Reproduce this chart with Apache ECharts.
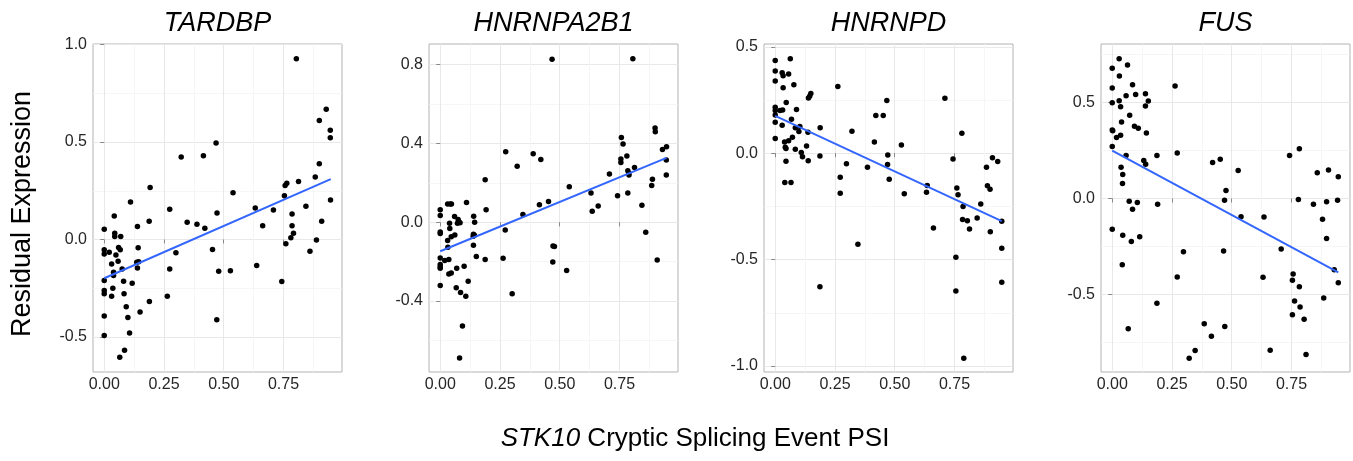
<!DOCTYPE html>
<html>
<head>
<meta charset="utf-8">
<script src="https://cdn.jsdelivr.net/npm/echarts@6/dist/echarts.min.js"></script>
<style>
html,body{margin:0;padding:0;background:#fff;}
#chart{width:1353px;height:461px;}
</style>
</head>
<body>
<div id="chart"></div>
<script>
// ---------- data ----------
const panelTitles = ['TARDBP', 'HNRNPA2B1', 'HNRNPD', 'FUS'];

const tardbpPoints = [[0,0.053],[0,-0.053],[0,-0.075],[0.021,-0.066],[0,-0.211],[0,-0.262],[0,-0.279],[0,-0.393],[0,-0.493],
[0.031,-0.126],[0.031,-0.291],[0.036,-0.25],[0.039,-0.168],[0.039,-0.185],[0.042,0.121],[0.044,0.032],[0.044,0.015],[0.049,-0.08],
[0.058,-0.112],[0.06,-0.041],[0.067,-0.053],[0.069,0.015],[0.075,-0.151],[0.081,-0.214],[0.083,-0.279],[0.092,-0.345],[0.099,-0.4],
[0.106,-0.48],[0.085,-0.568],[0.065,-0.604],[0.11,0.192],[0.117,-0.224],[0.139,0.066],[0.142,-0.043],[0.136,-0.117],[0.144,-0.114],
[0.139,-0.146],[0.15,-0.372],[0.188,0.094],[0.192,0.267],[0.189,-0.318],[0.264,-0.291],[0.274,0.155],[0.274,-0.151],[0.3,-0.068],
[0.322,0.423],[0.347,0.088],[0.388,0.078],[0.415,0.43],[0.421,0.058],[0.453,-0.051],[0.468,0.495],[0.472,0.136],[0.471,-0.412],
[0.479,-0.163],[0.528,-0.16],[0.539,0.24],[0.632,0.162],[0.638,-0.133],[0.663,0.071],[0.708,0.151],[0.743,-0.216],[0.754,0.224],
[0.757,0.277],[0.764,0.289],[0.76,-0.022],[0.786,0.131],[0.786,0.071],[0.792,0.032],[0.781,0.009],[0.804,0.927],[0.813,0.298],
[0.844,0.17],[0.861,-0.061],[0.883,0.32],[0.888,-0.003],[0.9,0.388],[0.9,0.611],[0.91,0.094],[0.929,0.668],[0.946,0.561],
[0.946,0.522],[0.947,0.202]];

const hnrnpa2b1Points = [[0,0.064],[0,0.035],[0,-0.049],[0,-0.057],[0,-0.181],[0,-0.214],[0,-0.226],[0,-0.233],[0,-0.321],
[0.019,-0.194],[0.036,-0.189],[0.031,-0.093],[0.032,-0.127],[0.031,0.093],[0.042,0.093],[0.047,0.093],[0.039,-0.005],[0.04,-0.032],
[0.046,-0.073],[0.036,-0.262],[0.046,-0.257],[0.06,0.029],[0.061,-0.064],[0.069,-0.233],[0.067,-0.332],[0.072,-0.005],[0.075,0.014],
[0.078,0.002],[0.083,-0.003],[0.085,-0.356],[0.093,-0.527],[0.081,-0.689],[0.1,-0.223],[0.107,-0.376],[0.117,-0.299],[0.11,0.101],
[0.138,-0.071],[0.14,0.03],[0.144,0],[0.139,-0.061],[0.143,-0.066],[0.139,-0.116],[0.151,-0.174],[0.188,0.216],[0.192,0.064],
[0.188,-0.189],[0.263,-0.182],[0.274,0.358],[0.272,-0.039],[0.301,-0.363],[0.322,0.285],[0.346,0.039],[0.389,0.348],[0.415,0.089],
[0.421,0.319],[0.453,0.105],[0.468,0.827],[0.472,-0.12],[0.478,-0.123],[0.471,-0.201],[0.529,-0.245],[0.54,0.181],[0.631,0.149],
[0.636,0.056],[0.661,0.083],[0.708,0.245],[0.742,0.135],[0.758,0.43],[0.765,0.397],[0.756,0.321],[0.756,0.304],[0.781,0.336],
[0.785,0.262],[0.789,0.25],[0.79,0.24],[0.785,0.149],[0.806,0.83],[0.813,0.278],[0.844,0.086],[0.86,-0.051],[0.885,0.187],
[0.888,0.219],[0.899,0.479],[0.9,0.459],[0.908,-0.191],[0.93,0.37],[0.947,0.383],[0.946,0.316],[0.946,0.24]];

const hnrnpdPoints = [[0,0.436],[0,0.386],[0,0.339],[0,0.216],[0,0.2],[0,0.18],[0,0.145],[0,0.069],[0.02,0.2],[0.031,0.203],
[0.029,0.131],[0.029,0.378],[0.033,0.364],[0.033,0.308],[0.046,0.238],[0.039,0.052],[0.042,0.028],[0.045,0.022],[0.045,-0.038],
[0.04,-0.138],[0.056,0.372],[0.063,0.444],[0.056,0.058],[0.066,-0.138],[0.068,0.159],[0.072,0.075],[0.078,0.322],[0.084,0.12],
[0.084,0.019],[0.089,0.205],[0.099,0.102],[0.103,0.125],[0.109,0.003],[0.114,-0.017],[0.131,0.034],[0.137,0.098],[0.138,-0.036],
[0.139,0.259],[0.144,0.267],[0.149,0.28],[0.188,0.119],[0.187,-0.013],[0.187,-0.628],[0.262,0.313],[0.272,-0.113],[0.272,-0.188],
[0.298,-0.05],[0.321,0.103],[0.346,-0.428],[0.386,-0.066],[0.415,0.052],[0.421,0.177],[0.452,0.177],[0.467,0.248],[0.471,-0.009],
[0.47,-0.053],[0.477,-0.122],[0.528,0.038],[0.54,-0.191],[0.633,-0.183],[0.636,-0.152],[0.662,-0.352],[0.71,0.258],[0.744,-0.027],
[0.756,-0.489],[0.756,-0.648],[0.76,-0.163],[0.765,-0.195],[0.781,0.094],[0.786,-0.25],[0.784,-0.311],[0.804,-0.317],[0.813,-0.356],
[0.789,-0.963],[0.845,-0.305],[0.86,-0.239],[0.884,-0.066],[0.888,-0.153],[0.899,-0.169],[0.9,-0.369],[0.909,-0.022],[0.931,-0.039],
[0.948,-0.32],[0.948,-0.447],[0.948,-0.606]];

const fusPoints = [[0,0.679],[0,0.576],[0,0.5],[0,0.358],[0.002,0.354],[0,0.271],[0,-0.161],[0.018,0.318],[0.029,0.729],[0.03,0.639],
[0.029,0.51],[0.035,0.479],[0.035,0.33],[0.039,0.399],[0.037,0.163],[0.044,0.125],[0.043,0.078],[0.044,-0.191],[0.042,-0.345],
[0.058,0.536],[0.064,0.696],[0.058,0.224],[0.067,-0.68],[0.071,-0.014],[0.073,0.434],[0.08,-0.224],[0.085,-0.056],[0.085,0.594],
[0.093,0.377],[0.098,0.543],[0.105,-0.021],[0.109,0.366],[0.115,-0.2],[0.132,0.198],[0.139,0.547],[0.139,0.483],[0.14,0.179],
[0.143,0.342],[0.151,0.509],[0.187,0.224],[0.19,-0.03],[0.187,-0.547],[0.263,0.587],[0.272,0.238],[0.272,-0.41],[0.298,-0.278],
[0.322,-0.833],[0.347,-0.793],[0.385,-0.653],[0.415,-0.719],[0.42,0.188],[0.452,0.205],[0.466,-0.274],[0.47,-0.009],[0.476,0.042],
[0.471,-0.668],[0.527,0.146],[0.539,-0.095],[0.635,-0.097],[0.631,-0.411],[0.661,-0.792],[0.707,-0.264],[0.742,0.224],[0.783,0.259],
[0.779,-0.005],[0.757,-0.394],[0.754,-0.427],[0.783,-0.46],[0.763,-0.535],[0.786,-0.566],[0.754,-0.606],[0.803,-0.63],[0.811,-0.814],
[0.842,-0.03],[0.858,0.135],[0.905,0.149],[0.897,-0.017],[0.88,-0.108],[0.897,-0.208],[0.885,-0.519],[0.946,0.113],[0.943,-0.009],
[0.929,-0.372],[0.946,-0.439]];

// fitted line end points
const tardbpFit = [[0, -0.199], [0.948, 0.31]];
const hnrnpa2b1Fit = [[0, -0.147], [0.947, 0.327]];
const hnrnpdFit = [[0, 0.175], [0.948, -0.319]];
const fusFit = [[0, 0.25], [0.946, -0.385]];

// tick labels
const xTicks = [0, 0.25, 0.5, 0.75];
const xMinor = [0.125, 0.375, 0.625, 0.875];
const tardbpYTicks = [-0.5, 0, 0.5, 1.0];
const tardbpYMinor = [-0.25, 0.25, 0.75];
const hnrnpa2b1YTicks = [-0.4, 0, 0.4, 0.8];
const hnrnpa2b1YMinor = [-0.6, -0.2, 0.2, 0.6];
const hnrnpdYTicks = [-1.0, -0.5, 0, 0.5];
const hnrnpdYMinor = [-0.75, -0.25, 0.25];
const fusYTicks = [-0.5, 0, 0.5];
const fusYMinor = [-0.75, -0.25, 0.25, 0.75];

// axis ranges
const xRange = [-0.047, 0.995];
const tardbpYRange = [-0.68, 1.003];
const hnrnpa2b1YRange = [-0.76, 0.905];
const hnrnpdYRange = [-1.028, 0.513];
const fusYRange = [-0.905, 0.806];

// ---------- build chart ----------
const panels = [
  {points: tardbpPoints, fit: tardbpFit, yTicks: tardbpYTicks, yMinor: tardbpYMinor, yRange: tardbpYRange, left: 93},
  {points: hnrnpa2b1Points, fit: hnrnpa2b1Fit, yTicks: hnrnpa2b1YTicks, yMinor: hnrnpa2b1YMinor, yRange: hnrnpa2b1YRange, left: 429},
  {points: hnrnpdPoints, fit: hnrnpdFit, yTicks: hnrnpdYTicks, yMinor: hnrnpdYMinor, yRange: hnrnpdYRange, left: 764},
  {points: fusPoints, fit: fusFit, yTicks: fusYTicks, yMinor: fusYMinor, yRange: fusYRange, left: 1101}
];
const gridW = 249, gridTop = 44, gridH = 328;
const FONT = '"Liberation Sans", Arial, Helvetica, sans-serif';
const majorGrid = '#e8e8e8', minorGrid = '#f4f4f4', borderCol = '#b3b3b3', labelCol = '#262626';

const grids = [], xAxes = [], yAxes = [], series = [], graphics = [];
panels.forEach((p, i) => {
  grids.push({left: p.left, top: gridTop, width: gridW, height: gridH, show: true,
    borderColor: borderCol, borderWidth: 1, backgroundColor: '#fff', containLabel: false, outerBoundsMode: 'none'});
  // minor grid axes
  xAxes.push({type: 'value', gridIndex: i, position: 'bottom', min: xRange[0], max: xRange[1],
    axisLine: {show: false}, axisTick: {show: false, customValues: xMinor}, axisLabel: {show: false, customValues: xMinor},
    splitLine: {show: true, lineStyle: {color: minorGrid, width: 0.8}}});
  yAxes.push({type: 'value', gridIndex: i, position: 'left', min: p.yRange[0], max: p.yRange[1],
    axisLine: {show: false}, axisTick: {show: false, customValues: p.yMinor}, axisLabel: {show: false, customValues: p.yMinor},
    splitLine: {show: true, lineStyle: {color: minorGrid, width: 0.8}}});
  // major axes
  xAxes.push({type: 'value', gridIndex: i, position: 'bottom', min: xRange[0], max: xRange[1],
    axisLine: {show: false},
    axisTick: {show: true, length: 4, customValues: xTicks, lineStyle: {color: '#888', width: 1}},
    axisLabel: {show: true, customValues: xTicks, margin: 5, color: labelCol, fontSize: 16, fontFamily: FONT,
      formatter: v => v.toFixed(2)},
    splitLine: {show: true, lineStyle: {color: majorGrid, width: 1}}});
  yAxes.push({type: 'value', gridIndex: i, position: 'left', min: p.yRange[0], max: p.yRange[1],
    axisLine: {show: false},
    axisTick: {show: true, length: 4, customValues: p.yTicks, lineStyle: {color: '#888', width: 1}},
    axisLabel: {show: true, customValues: p.yTicks, margin: 6, color: labelCol, fontSize: 16, fontFamily: FONT,
      formatter: v => v.toFixed(1)},
    splitLine: {show: true, lineStyle: {color: majorGrid, width: 1}}});
  series.push({type: 'scatter', xAxisIndex: 2 * i + 1, yAxisIndex: 2 * i + 1, data: p.points,
    symbol: 'circle', symbolSize: 5.5, itemStyle: {color: '#000', opacity: 1}, silent: true, z: 3});
  series.push({type: 'line', xAxisIndex: 2 * i + 1, yAxisIndex: 2 * i + 1, data: p.fit,
    showSymbol: false, symbol: 'none', lineStyle: {color: '#3366FF', width: 2}, silent: true, z: 4});
  graphics.push({type: 'text', x: p.left + gridW / 2, y: 23,
    style: {text: panelTitles[i], font: 'italic 27px ' + FONT, fill: '#000', align: 'center', verticalAlign: 'middle'}});
});

graphics.push({type: 'text', x: 23, y: 214, rotation: Math.PI / 2,
  style: {text: 'Residual Expression', font: '27px ' + FONT, fill: '#000', align: 'center', verticalAlign: 'middle'}});
graphics.push({type: 'text', x: 695, y: 439,
  style: {text: '{i|STK10} Cryptic Splicing Event PSI', font: '26px ' + FONT, fill: '#000', align: 'center', verticalAlign: 'middle',
    rich: {i: {fontStyle: 'italic', fontSize: 26, fontFamily: FONT, fill: '#000'}}}});

const chart = echarts.init(document.getElementById('chart'), null, {renderer: 'canvas'});
chart.setOption({
  animation: false,
  backgroundColor: '#fff',
  grid: grids,
  xAxis: xAxes,
  yAxis: yAxes,
  series: series,
  graphic: graphics
});
</script>
</body>
</html>
